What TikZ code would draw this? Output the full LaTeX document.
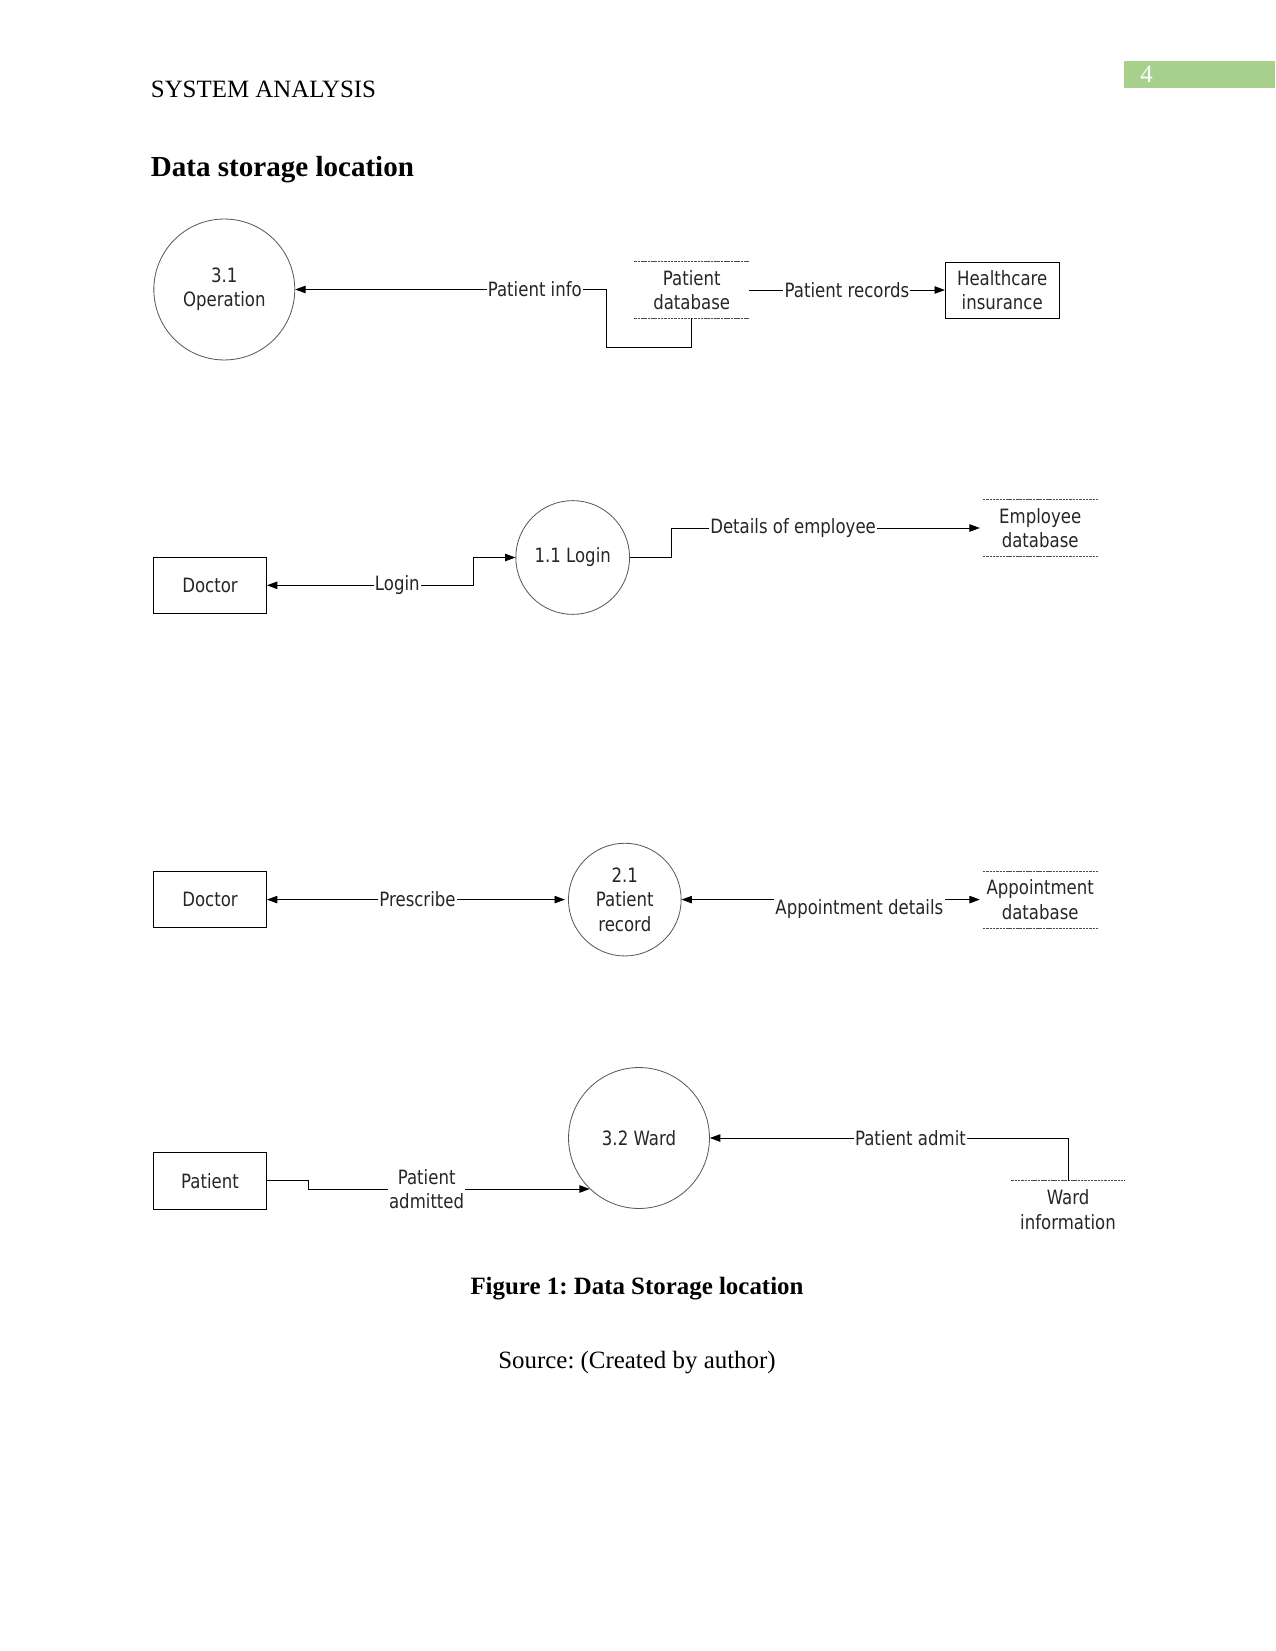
\documentclass[tikz,border=0pt]{standalone}
\usepackage{fontspec}
\setmainfont{Liberation Serif}
\newfontfamily\dfdfont[FakeStretch=0.84]{DejaVu Sans}
\usetikzlibrary{arrows.meta,positioning}
\definecolor{pagegreen}{RGB}{168,208,141}
\newcommand{\dfdtext}{\dfdfont\fontsize{9.5}{11.7}\selectfont}
\frenchspacing

\tikzset{
  proc/.style={circle, draw=black!65, thin, align=center, inner sep=1pt, text=black!85, font=\dfdtext},
  ent/.style={rectangle, draw=black, thin, minimum width=54.5pt, minimum height=27.2pt, align=center, inner sep=1pt, text=black!85, font=\dfdtext},
  store/.style={minimum width=54.8pt, minimum height=27pt, align=center, inner sep=0pt, text=black!85, font=\dfdtext},
  storeline/.style={draw=black!70, thin, dash pattern=on 1.2pt off 0.4pt},
  flow/.style={draw=black, thin, >={Triangle[length=5pt,width=3.6pt]}},
  lbl/.style={fill=white, inner sep=0.6pt, text=black!85, font=\dfdtext}
}

\begin{document}
\begin{tikzpicture}[x=0.4818pt, y=-0.4818pt]
\useasboundingbox (0,0) rectangle (1275,1651);

%page header
\fill[pagegreen] (1124.4,61) rectangle (1275,88.4);
\node[anchor=base west, text=white, font=\fontsize{12}{14}\selectfont, inner sep=0pt] (pgno) at (1140,83) {4};
\node[anchor=base west, font=\fontsize{12}{14}\selectfont, inner sep=0pt] (runhead) at (150.5,97.5) {SYSTEM ANALYSIS};
\node[anchor=base west, font=\fontsize{14}{16}\selectfont\bfseries, inner sep=0pt] (title) at (150.5,176.5) {Data storage location};

%operation
\node[proc, minimum size=67.9pt] (op) at (224.3,289.5) {3.1\\Operation};
\node[store] (pdb) at (691.7,290) {Patient\\database};
\node[ent, minimum width=54.8pt, minimum height=27pt] (hci) at (1002.2,290) {Healthcare\\insurance};
\draw[storeline] (pdb.north west) -- (pdb.north east);
\draw[storeline] (pdb.south west) -- (pdb.south east);
\coordinate (pibend) at (606.4,347.4);
\draw[flow,->] (pdb.south) |- (pibend) |- node[lbl, pos=0.615] {Patient info} (op.east);
\draw[flow,->] (pdb.east) -- node[lbl, pos=0.5] {Patient records} (hci.west);

%login
\node[ent] (doc1) at (210,585.3) {Doctor};
\node[proc, minimum size=54.8pt] (login) at (572.7,557.5) {1.1 Login};
\node[store] (edb) at (1040.2,528) {Employee\\database};
\draw[storeline] (edb.north west) -- (edb.north east);
\draw[storeline] (edb.south west) -- (edb.south east);
\coordinate (lbend) at (473.8,585.3);
\coordinate (dbend) at (671.7,528);
\draw[flow,<->] (doc1.east) -- node[lbl, pos=0.63] {Login} (lbend) |- (login.west);
\draw[flow,->, shorten >=1.5pt] (login.east) -| (dbend) -- node[lbl, pos=0.39] {Details of employee} (edb.west);

%patient record
\node[ent] (doc2) at (210,899.6) {Doctor};
\node[proc, minimum size=54.3pt] (prec) at (624.8,899.6) {2.1\\Patient\\record};
\node[store] (adb) at (1040.2,899.6) {Appointment\\database};
\draw[storeline] (adb.north west) -- (adb.north east);
\draw[storeline] (adb.south west) -- (adb.south east);
\draw[flow,<->, shorten >=1.5pt] (doc2.east) -- node[lbl, pos=0.5] {Prescribe} (prec.west);
\draw[flow,<->, shorten >=1.5pt] (prec.east) -- node[lbl, pos=0.59, yshift=-4.5pt] {Appointment details} (adb.west);

%ward
\node[ent] (pat) at (210,1180.7) {Patient};
\node[proc, minimum size=67.9pt] (ward) at (639,1138) {3.2 Ward};
\node[store, minimum width=54.3pt, minimum height=27.3pt] (wdb) at (1068,1209.5) {Ward\\information};
\draw[storeline] (wdb.north west) -- (wdb.north east);
\coordinate (pabend) at (308.5,1180.7);
\draw[flow,->] (pat.east) -- (pabend) |- node[lbl, pos=0.71, align=center] {Patient\\admitted} (ward.226);
\draw[flow,->] (wdb.north) |- node[lbl, pos=0.72] {Patient admit} (ward.east);

%caption
\node[anchor=base, font=\fontsize{12}{14}\selectfont\bfseries, inner sep=0pt] (caption) at (637,1294) {Figure 1: Data Storage location};
\node[anchor=base, font=\fontsize{12}{14}\selectfont, inner sep=0pt] (source) at (637,1368.6) {Source: (Created by author)};

\end{tikzpicture}
\end{document}
